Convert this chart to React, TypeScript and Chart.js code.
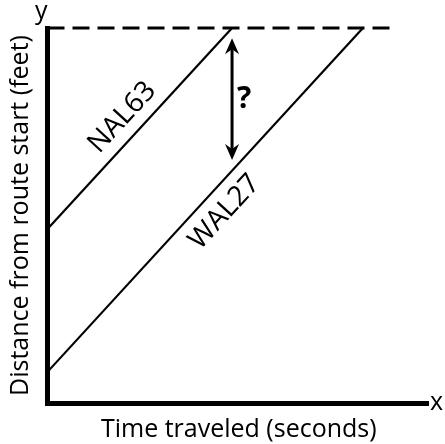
import React, { useEffect, useRef } from "react";
import { Chart, registerables } from "chart.js";

Chart.register(...registerables);

// ---- data (in axis units, 0..100 on both axes) ----
const seriesNames = ["NAL63", "WAL27"];
const nalTime = [0, 48.5];
const nalDistance = [46.4, 100];
const walTime = [0, 82.9];
const walDistance = [8.3, 100];
const goalTime = [0, 90];
const goalDistance = [100, 100];
const gapTime = 48.5;
const gapDistance = [97.3, 64.8];
const labelTime = [23.6, 42.2];
const axisTitles = ["Time traveled (seconds)", "Distance from route start (feet)"];
const axisLetters = ["x", "y"];
const questionText = "?";

// ---- styles / positions ----
const FONT = "'Open Sans', 'DejaVu Sans', sans-serif";
const RASTER_COLOR = "#ff0000"; // text is rasterised in colour, then toned to black
const INK = "#000000";
const labelOffsets = [12.3, -30.5]; // px above the line (baseline)

const toPoints = (xs: number[], ys: number[]) => xs.map((x, i) => ({ x, y: ys[i] }));

const annotate = {
  id: "annotate",
  afterDraw(chart: any) {
    const { ctx, scales } = chart;
    const xs = scales.x;
    const ys = scales.y;
    ctx.save();
    ctx.fillStyle = RASTER_COLOR;
    ctx.strokeStyle = INK;

    // line labels
    const lines = [
      [nalTime, nalDistance],
      [walTime, walDistance],
    ];
    lines.forEach(([tx, dy], i) => {
      const x0 = xs.getPixelForValue(tx[0]);
      const y0 = ys.getPixelForValue(dy[0]);
      const x1 = xs.getPixelForValue(tx[1]);
      const y1 = ys.getPixelForValue(dy[1]);
      const ang = Math.atan2(y1 - y0, x1 - x0);
      const t = labelTime[i];
      const v = dy[0] + ((dy[1] - dy[0]) * (t - tx[0])) / (tx[1] - tx[0]);
      const px = xs.getPixelForValue(t);
      const py = ys.getPixelForValue(v);
      ctx.save();
      ctx.translate(px, py);
      ctx.rotate(ang);
      ctx.font = `28px ${FONT}`;
      ctx.textAlign = "center";
      ctx.textBaseline = "alphabetic";
      ctx.fillText(seriesNames[i], 0, -labelOffsets[i]);
      ctx.restore();
    });

    // double arrow
    const ax = xs.getPixelForValue(gapTime);
    const top = ys.getPixelForValue(gapDistance[0]);
    const bot = ys.getPixelForValue(gapDistance[1]);
    const L = 16, W = 7, N = 5;
    ctx.save();
    ctx.fillStyle = INK;
    ctx.lineWidth = 3;
    ctx.beginPath();
    ctx.moveTo(ax, top + L - N);
    ctx.lineTo(ax, bot - L + N);
    ctx.stroke();
    ctx.beginPath();
    ctx.moveTo(ax, top);
    ctx.lineTo(ax - W, top + L);
    ctx.lineTo(ax, top + L - N);
    ctx.lineTo(ax + W, top + L);
    ctx.closePath();
    ctx.fill();
    ctx.beginPath();
    ctx.moveTo(ax, bot);
    ctx.lineTo(ax - W, bot - L);
    ctx.lineTo(ax, bot - L + N);
    ctx.lineTo(ax + W, bot - L);
    ctx.closePath();
    ctx.fill();
    ctx.restore();

    // question mark
    ctx.font = `bold 30px ${FONT}`;
    ctx.textAlign = "left";
    ctx.textBaseline = "alphabetic";
    ctx.fillText(questionText, ax + 5, (top + bot) / 2 + 9);

    // axis titles
    const area = chart.chartArea;
    ctx.font = `25px ${FONT}`;
    ctx.textAlign = "center";
    ctx.fillText(axisTitles[0], (area.left + area.right) / 2 + 1, area.bottom + 34);
    ctx.save();
    ctx.translate(area.left - 20, (area.top + area.bottom) / 2);
    ctx.rotate(-Math.PI / 2);
    ctx.fillText(axisTitles[1], 0, 0);
    ctx.restore();

    // axis letters
    ctx.textAlign = "left";
    ctx.fillText(axisLetters[0], area.right + 2, area.bottom + 7);
    ctx.fillText(axisLetters[1], area.left - 12.5, area.top - 9.5);

    // tone everything drawn so far to black ink (keeps each pixel's coverage)
    ctx.globalCompositeOperation = "source-atop";
    ctx.fillStyle = INK;
    ctx.fillRect(0, 0, chart.width, chart.height);

    ctx.restore();
  },
};

export default function App() {
  const ref = useRef<HTMLCanvasElement>(null);
  useEffect(() => {
    if (!ref.current) return;
    const chart = new Chart(ref.current, {
      type: "line",
      data: {
        datasets: [
          {
            label: seriesNames[0],
            data: toPoints(nalTime, nalDistance),
            borderColor: INK,
            borderWidth: 2.2,
            pointRadius: 0,
            clip: false as any,
          },
          {
            label: seriesNames[1],
            data: toPoints(walTime, walDistance),
            borderColor: INK,
            borderWidth: 2.2,
            pointRadius: 0,
            clip: false as any,
          },
          {
            label: "goal",
            data: toPoints(goalTime, goalDistance),
            borderColor: INK,
            borderWidth: 3,
            borderDash: [17, 8],
            pointRadius: 0,
            clip: false as any,
          },
        ],
      },
      options: {
        animation: false,
        responsive: true,
        maintainAspectRatio: false,
        layout: { padding: { left: 47.5, top: 28, right: 17, bottom: 41 } },
        plugins: { legend: { display: false }, tooltip: { enabled: false } },
        scales: {
          x: {
            type: "linear",
            min: 0,
            max: 100,
            ticks: { display: false },
            grid: { display: false, drawTicks: false },
            border: { display: true, width: 5, color: INK },
          },
          y: {
            type: "linear",
            min: 0,
            max: 100,
            ticks: { display: false },
            grid: { display: false, drawTicks: false },
            border: { display: true, width: 5, color: INK },
          },
        },
      },
      plugins: [annotate],
    });
    return () => chart.destroy();
  }, []);
  return (
    <div style={{ position: "absolute", left: 0, top: 0, width: 445, height: 444, background: "#fff" }}>
      <canvas ref={ref} style={{ display: "block" }} />
    </div>
  );
}
